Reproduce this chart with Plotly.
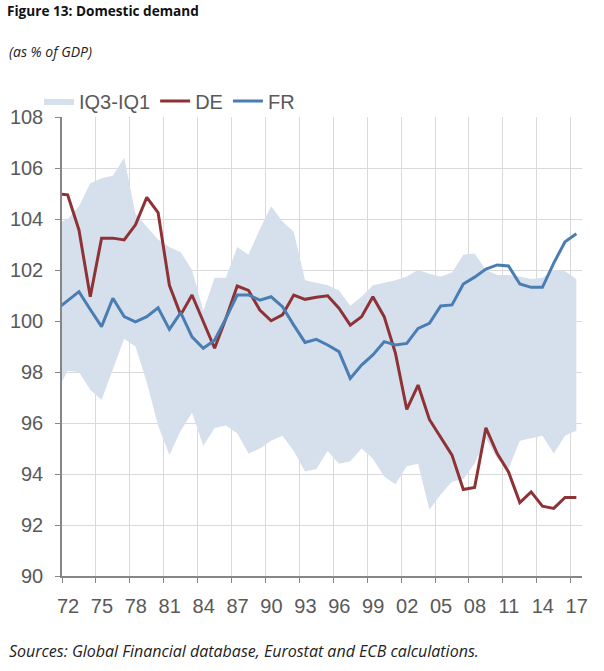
import plotly.graph_objects as go

years = list(range(1971, 2018))

de = [105.0, 104.95, 103.57, 100.95, 103.25, 103.25, 103.18, 103.77, 104.85, 104.25,
      101.4, 100.24, 101.02, 100.0, 98.93, 100.1, 101.37, 101.2, 100.43, 100.01,
      100.24, 101.02, 100.85, 100.93, 100.99, 100.5, 99.84, 100.17, 100.95, 100.17,
      98.73, 96.53, 97.49, 96.14, 95.46, 94.74, 93.39, 93.47, 95.81, 94.8,
      94.08, 92.88, 93.3, 92.74, 92.65, 93.08, 93.08]

fr = [100.45, 100.8, 101.15, 100.45, 99.78, 100.89, 100.17, 99.97, 100.17, 100.52,
      99.67, 100.33, 99.38, 98.93, 99.25, 100.1, 101.02, 101.02, 100.82, 100.95,
      100.56, 99.84, 99.16, 99.28, 99.06, 98.8, 97.75, 98.27, 98.67, 99.19,
      99.06, 99.12, 99.71, 99.91, 100.59, 100.63, 101.45, 101.72, 102.04, 102.2,
      102.16, 101.45, 101.32, 101.32, 102.27, 103.11, 103.42]

iq3 = [103.8, 104.0, 104.5, 105.4, 105.6, 105.7, 106.4, 104.2, 103.7, 103.2,
       102.9, 102.7, 102.0, 100.4, 101.7, 101.7, 102.9, 102.6, 103.6, 104.5,
       103.9, 103.5, 101.6, 101.5, 101.4, 101.2, 100.6, 100.95, 101.4, 101.5,
       101.6, 101.75, 102.0, 101.85, 101.75, 101.9, 102.6, 102.65, 102.0, 101.8,
       101.8, 101.75, 101.65, 101.7, 102.0, 101.95, 101.65]

iq1 = [97.2, 98.05, 98.0, 97.3, 96.9, 98.1, 99.3, 99.0, 97.6, 95.9,
       94.75, 95.7, 96.4, 95.1, 95.8, 95.9, 95.6, 94.8, 95.0, 95.3,
       95.5, 94.9, 94.1, 94.2, 94.9, 94.4, 94.5, 95.0, 94.6, 93.9,
       93.6, 94.3, 94.4, 92.6, 93.2, 93.7, 93.8, 94.4, 95.4, 94.6,
       94.2, 95.3, 95.4, 95.5, 94.8, 95.5, 95.7]

label_years = list(range(1972, 2018, 3))
tick_labels = ["72", "75", "78", "81", "84", "87", "90", "93", "96", "99",
               "02", "05", "08", "11", "14", "17"]

BAND = "#D6E0EC"
DE_C = "#8E3236"
FR_C = "#4A7DB3"
TXT = "#595959"
GRID = "#D9D9D9"
AX = "#868686"

W, H = 604, 671
L, T, R, B = 62, 117, 22, 95
PW, PH = W - L - R, H - T - B

fig = go.Figure()
fig.add_trace(go.Scatter(x=years, y=iq1, mode="lines", line=dict(width=0, color=BAND),
                         showlegend=False, hoverinfo="skip"))
fig.add_trace(go.Scatter(x=years, y=iq3, mode="lines", line=dict(width=0, color=BAND),
                         fill="tonexty", fillcolor=BAND, name="IQ3-IQ1"))
fig.add_trace(go.Scatter(x=years, y=de, mode="lines", line=dict(width=3, color=DE_C), name="DE"))
fig.add_trace(go.Scatter(x=years, y=fr, mode="lines", line=dict(width=3, color=FR_C), name="FR"))

tickvals = [y - 0.5 for y in label_years]

fig.update_layout(
    width=W, height=H,
    margin=dict(l=L, r=R, t=T, b=B, autoexpand=False),
    paper_bgcolor="white", plot_bgcolor="white",
    font=dict(family="Liberation Sans, Arial, sans-serif", color=TXT),
    title=dict(text="<b>Figure 13: Domestic demand</b>", x=7 / W, xanchor="left",
               xref="container", y=1 - 11.5 / H, yanchor="middle", yref="container",
               font=dict(family="Open Sans", size=13.6, color="#111111")),
    showlegend=True,
    legend=dict(orientation="h", traceorder="normal", x=(39 - L) / PW, xanchor="left",
                y=1 + (T - 101) / PH, yanchor="middle",
                font=dict(size=20, color=TXT), bgcolor="rgba(0,0,0,0)",
                itemwidth=30, tracegroupgap=0),
    annotations=[
        dict(text="<i>(as % of GDP)</i>", xref="paper", yref="paper",
             x=(7 - L) / PW, y=1 + (T - 51) / PH, xanchor="left", yanchor="middle",
             showarrow=False, font=dict(family="Open Sans", size=14, color="#222222")),
        dict(text="<i>Sources: Global Financial database, Eurostat and ECB calculations.</i>",
             xref="paper", yref="paper", x=(7 - L) / PW, y=-(651 - (H - B)) / PH,
             xanchor="left", yanchor="middle", showarrow=False,
             font=dict(family="Open Sans", size=16, color="#222222")),
    ],
)

fig.update_xaxes(range=[1971.5, 2017.5], tickmode="array", tickvals=tickvals,
                 ticktext=tick_labels, ticklabelshift=6, ticks="outside", ticklen=5,
                 tickcolor=AX, showline=True, linecolor=AX, linewidth=1.5,
                 showgrid=True, gridcolor=GRID, gridwidth=1, zeroline=False,
                 tickfont=dict(size=20, color=TXT), ticklabelstandoff=6)
fig.update_yaxes(range=[90, 108], dtick=2, tick0=90, ticks="outside", ticklen=5,
                 tickcolor=AX, showline=True, linecolor=AX, linewidth=1.5,
                 showgrid=True, gridcolor=GRID, gridwidth=1, zeroline=False,
                 tickfont=dict(size=20, color=TXT), ticklabelstandoff=8)

fig.write_html("out.html", config={"displayModeBar": False},
               post_script="document.body.style.margin='0';")
